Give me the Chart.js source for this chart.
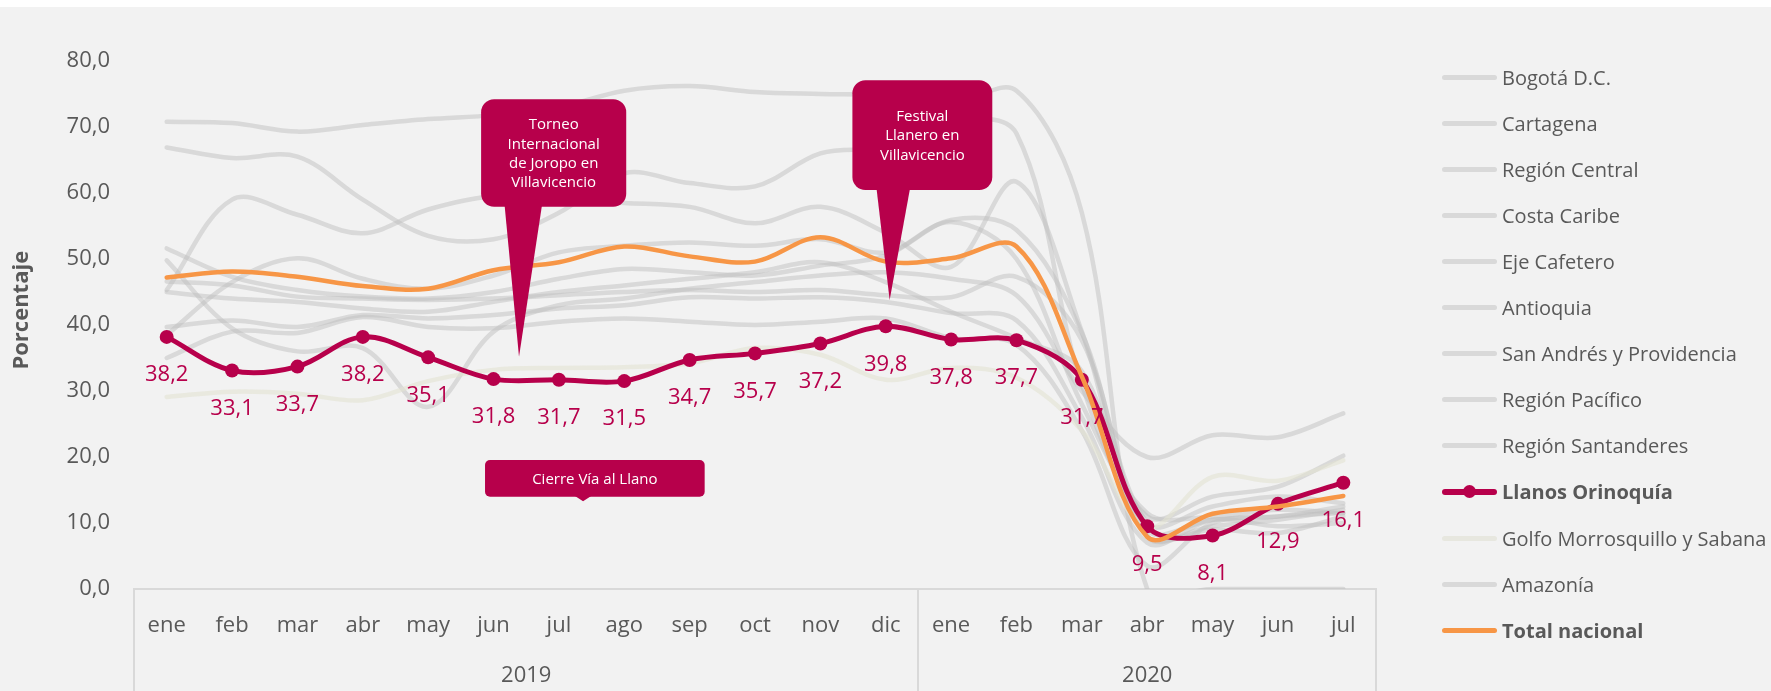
<!DOCTYPE html>
<html lang="es">
<head>
<meta charset="utf-8">
<title>Ocupación por región</title>
<script src="https://cdn.jsdelivr.net/npm/chart.js@4.4.0/dist/chart.umd.min.js"></script>
<style>
  html, body { margin: 0; padding: 0; background: #f2f2f2; }
  #contenedor { position: relative; width: 1771px; height: 691px; overflow: hidden; }
  #franja { position: absolute; left: 0; top: 0; width: 1771px; height: 7px; background: #ffffff; }
  #leyenda { position: absolute; left: 1442px; top: 0; font-family: "Open Sans", sans-serif; font-size: 20px; color: #595959; }
  .item { position: absolute; left: 0; height: 28px; display: flex; align-items: center; white-space: nowrap; }
  .linea { position: relative; width: 55px; margin-right: 5px; border-radius: 3px; }
  .punto { position: absolute; left: 21px; top: 50%; width: 13px; height: 13px; margin-top: -6.5px; border-radius: 50%; }
</style>
</head>
<body>
<div id="contenedor">
  <canvas id="grafica"></canvas>
  <div id="franja"></div>
  <div id="leyenda"></div>
</div>
<script>
// Meses y años del eje x
const meses = ["ene", "feb", "mar", "abr", "may", "jun", "jul", "ago", "sep", "oct", "nov", "dic",
               "ene", "feb", "mar", "abr", "may", "jun", "jul"];
const anios = ["2019", "2020"];
const mesesPorAnio = [12, 7];
const ticksY = [0, 10, 20, 30, 40, 50, 60, 70, 80];

// Series por región (porcentaje)
const bogota = [45.3, 59.0, 56.7, 53.9, 57.5, 59.5, 59.0, 58.5, 57.9, 55.4, 57.9, 54.0, 48.8, 61.7, 39.0, 8.0, 9.0, 8.5, 11.0];
const cartagena = [66.9, 65.3, 65.5, 59.0, 53.5, 53.0, 57.0, 63.0, 61.5, 61.0, 66.0, 67.0, 71.0, 69.0, 31.0, 11.0, 14.0, 15.5, 20.2];
const regionCentral = [51.6, 47.3, 45.3, 44.3, 44.0, 45.0, 47.0, 48.5, 48.0, 47.5, 49.0, 50.5, 55.9, 54.4, 38.8, 10.0, 12.5, 14.0, 13.0];
const costaCaribe = [38.5, 46.5, 50.1, 47.0, 45.5, 47.5, 51.0, 52.0, 52.5, 52.0, 53.0, 51.0, 55.6, 50.0, 28.0, 11.5, 11.0, 12.0, 11.5];
const ejeCafetero = [49.8, 39.5, 36.0, 36.5, 27.6, 39.0, 43.0, 44.0, 45.5, 46.5, 47.5, 48.0, 47.0, 44.5, 30.0, 20.0, 23.3, 23.0, 26.6];
const antioquia = [46.6, 46.0, 44.3, 44.0, 43.8, 44.0, 44.5, 45.0, 45.3, 45.0, 45.3, 44.5, 44.2, 47.3, 37.7, 9.0, 10.5, 11.0, 12.5];
const sanAndres = [70.8, 70.6, 69.3, 70.3, 71.2, 71.8, 73.0, 75.5, 76.2, 75.3, 75.0, 74.8, 73.5, 75.5, 57.0, 0.0, 0.0, 0.0, 0.0];
const regionPacifico = [39.7, 40.7, 39.7, 41.5, 41.0, 41.5, 42.5, 43.0, 44.2, 44.0, 44.2, 43.5, 41.8, 40.7, 26.0, 7.0, 10.5, 9.5, 10.0];
const regionSantanderes = [35.0, 39.0, 38.8, 41.2, 39.7, 39.5, 40.5, 41.0, 40.5, 40.0, 40.5, 41.0, 38.0, 37.0, 24.0, 3.5, 10.0, 11.0, 11.5];
const llanosOrinoquia = [38.2, 33.1, 33.7, 38.2, 35.1, 31.8, 31.7, 31.5, 34.7, 35.7, 37.2, 39.8, 37.8, 37.7, 31.7, 9.5, 8.1, 12.9, 16.1];
const golfoMorrosquillo = [29.1, 29.9, 29.6, 28.6, 31.5, 33.2, 33.5, 33.6, 34.2, 36.5, 35.5, 31.7, 33.5, 32.0, 24.0, 9.4, 17.0, 16.4, 19.5];
const amazonia = [45.0, 44.0, 43.5, 42.5, 42.0, 43.5, 45.0, 46.0, 47.0, 48.0, 49.5, 46.5, 42.0, 38.0, 33.0, 8.0, 9.5, 10.5, 12.0];
const totalNacional = [47.2, 48.1, 47.3, 45.9, 45.5, 48.3, 49.5, 51.9, 50.4, 49.6, 53.3, 49.6, 50.1, 51.9, 32.2, 7.9, 11.4, 12.5, 14.1];

const GRIS = "rgba(191,191,191,0.5)";
const BEIGE = "rgba(227,227,210,0.6)";
const VINO = "#b7004b";
const NARANJA = "#f79646";
const TEXTO = "#595959";
const FUENTE = "'Open Sans', sans-serif";

const series = [
  { nombre: "Bogotá D.C.", datos: bogota, tipo: "gris" },
  { nombre: "Cartagena", datos: cartagena, tipo: "gris" },
  { nombre: "Región Central", datos: regionCentral, tipo: "gris" },
  { nombre: "Costa Caribe", datos: costaCaribe, tipo: "gris" },
  { nombre: "Eje Cafetero", datos: ejeCafetero, tipo: "gris" },
  { nombre: "Antioquia", datos: antioquia, tipo: "gris" },
  { nombre: "San Andrés y Providencia", datos: sanAndres, tipo: "gris" },
  { nombre: "Región Pacífico", datos: regionPacifico, tipo: "gris" },
  { nombre: "Región Santanderes", datos: regionSantanderes, tipo: "gris" },
  { nombre: "Llanos Orinoquía", datos: llanosOrinoquia, tipo: "llanos" },
  { nombre: "Golfo Morrosquillo y Sabana", datos: golfoMorrosquillo, tipo: "beige" },
  { nombre: "Amazonía", datos: amazonia, tipo: "gris" },
  { nombre: "Total nacional", datos: totalNacional, tipo: "total" }
];

const estilos = {
  gris:   { color: GRIS, ancho: 4.5, orden: 3, leyenda: "#d9d9d9", grosor: 5 },
  beige:  { color: BEIGE, ancho: 4.5, orden: 2, leyenda: "#e7e7df", grosor: 5 },
  llanos: { color: VINO, ancho: 5, orden: 1, leyenda: VINO, grosor: 6 },
  total:  { color: NARANJA, ancho: 4.5, orden: 0, leyenda: NARANJA, grosor: 5 }
};

const coma = v => v.toFixed(1).replace(".", ",");

// Globos de texto, en unidades de los ejes (x = índice del mes, y = porcentaje)
const notas = [
  { lineas: ["Torneo", "Internacional", "de Joropo en", "Villavicencio"],
    x0: 4.81, x1: 7.03, yArriba: 74.2, yAbajo: 57.9, radio: 13,
    base: [5.17, 5.74], punta: [5.39, 35.2] },
  { lineas: ["Festival", "Llanero en", "Villavicencio"],
    x0: 10.49, x1: 12.63, yArriba: 77.1, yAbajo: 60.45, radio: 13,
    base: [10.86, 11.37], punta: [11.06, 43.8] },
  { lineas: ["Cierre Vía al Llano"],
    x0: 4.87, x1: 8.23, yArriba: 19.55, yAbajo: 13.98, radio: 5,
    base: [6.24, 6.5], punta: [6.37, 13.3] }
];

const globos = {
  id: "globos",
  afterDatasetsDraw(chart) {
    const { ctx, scales: { x, y } } = chart;
    ctx.save();
    ctx.fillStyle = VINO;
    notas.forEach(n => {
      const l = x.getPixelForValue(n.x0), r = x.getPixelForValue(n.x1);
      const t = y.getPixelForValue(n.yArriba), b = y.getPixelForValue(n.yAbajo);
      ctx.beginPath();
      ctx.roundRect(l, t, r - l, b - t, n.radio);
      ctx.fill();
      ctx.beginPath();
      ctx.moveTo(x.getPixelForValue(n.base[0]), b - 1);
      ctx.lineTo(x.getPixelForValue(n.base[1]), b - 1);
      ctx.lineTo(x.getPixelForValue(n.punta[0]), y.getPixelForValue(n.punta[1]));
      ctx.closePath();
      ctx.fill();
    });
    ctx.fillStyle = "#ffffff";
    ctx.font = "15px " + FUENTE;
    ctx.textAlign = "center";
    ctx.textBaseline = "middle";
    notas.forEach(n => {
      const cx = (x.getPixelForValue(n.x0) + x.getPixelForValue(n.x1)) / 2;
      const cy = (y.getPixelForValue(n.yArriba) + y.getPixelForValue(n.yAbajo)) / 2;
      const alto = 19.3;
      n.lineas.forEach((txt, i) => {
        ctx.fillText(txt, cx, cy + (i - (n.lineas.length - 1) / 2) * alto + 1);
      });
    });

    // Etiquetas de valor de Llanos Orinoquía
    const idx = chart.data.datasets.findIndex(d => d.label === "Llanos Orinoquía");
    const meta = chart.getDatasetMeta(idx);
    ctx.fillStyle = VINO;
    ctx.font = "22px " + FUENTE;
    meta.data.forEach((p, i) => {
      ctx.fillText(coma(llanosOrinoquia[i]), p.x, p.y + 38);
    });
    ctx.restore();
  },
  afterDraw(chart) {
    const { ctx, chartArea, scales: { x } } = chart;
    ctx.save();

    // Título del eje y, algo por encima del centro del área
    ctx.fillStyle = TEXTO;
    ctx.font = "bold 22px " + FUENTE;
    ctx.textAlign = "center";
    ctx.textBaseline = "middle";
    ctx.translate(22, chartArea.top + (chartArea.bottom - chartArea.top) * 0.472);
    ctx.rotate(-Math.PI / 2);
    ctx.fillText("Porcentaje", 0, 0);
    ctx.setTransform(1, 0, 0, 1, 0, 0);

    // Separadores de año y etiquetas 2019 / 2020 bajo los meses
    ctx.strokeStyle = "#d9d9d9";
    ctx.lineWidth = 2;
    ctx.font = "22px " + FUENTE;
    let inicio = 0;
    const bordes = [0];
    mesesPorAnio.forEach((n, k) => {
      const centro = x.getPixelForValue(inicio + n / 2 - 0.5);
      ctx.fillText(anios[k], centro, chartArea.bottom + 87);
      inicio += n;
      bordes.push(inicio);
    });
    bordes.forEach(bd => {
      const px = Math.round(x.getPixelForValue(bd - 0.5));
      ctx.beginPath();
      ctx.moveTo(px, chartArea.bottom);
      ctx.lineTo(px, chart.height);
      ctx.stroke();
    });
    ctx.restore();
  }
};

Chart.defaults.font.family = FUENTE;

const lienzo = document.getElementById("grafica");
lienzo.width = 1771;
lienzo.height = 691;

new Chart(lienzo.getContext("2d"), {
  type: "line",
  data: {
    labels: meses,
    datasets: series.map(s => {
      const e = estilos[s.tipo];
      return {
        label: s.nombre,
        data: s.datos,
        borderColor: e.color,
        backgroundColor: e.color,
        borderWidth: e.ancho,
        order: e.orden,
        tension: 0.35,
        fill: false,
        pointRadius: s.tipo === "llanos" ? 7 : 0,
        pointBorderWidth: 0,
        pointBackgroundColor: e.color
      };
    })
  },
  options: {
    responsive: false,
    animation: false,
    events: [],
    layout: { padding: { top: 61, right: 395, bottom: 0, left: 0 } },
    elements: { line: { capBezierPoints: false, borderCapStyle: "round" } },
    plugins: {
      legend: { display: false },
      tooltip: { enabled: false }
    },
    scales: {
      x: {
        offset: true,
        grid: { display: false, drawTicks: false },
        border: { display: true, color: "#d9d9d9", width: 2 },
        ticks: { color: TEXTO, font: { size: 22 }, padding: 24, maxRotation: 0, autoSkip: false },
        afterFit(scale) { scale.height = 102; }
      },
      y: {
        min: 0,
        max: 80,
        grid: { display: false, drawTicks: false },
        border: { display: false },
        afterBuildTicks(scale) { scale.ticks = ticksY.map(v => ({ value: v })); },
        ticks: { color: TEXTO, font: { size: 22 }, padding: 24, callback: v => coma(v) },
        afterFit(scale) { scale.width = 134; }
      }
    }
  },
  plugins: [globos]
});

// Leyenda a la derecha
const leyenda = document.getElementById("leyenda");
series.forEach((s, i) => {
  const e = estilos[s.tipo];
  const item = document.createElement("div");
  item.className = "item";
  item.style.top = (77.6 + 46.04 * i - 14) + "px";
  const linea = document.createElement("span");
  linea.className = "linea";
  linea.style.height = e.grosor + "px";
  linea.style.background = e.leyenda;
  if (s.tipo === "llanos") {
    const punto = document.createElement("span");
    punto.className = "punto";
    punto.style.background = VINO;
    linea.appendChild(punto);
  }
  const texto = document.createElement("span");
  texto.textContent = s.nombre;
  if (s.tipo === "llanos" || s.tipo === "total") texto.style.fontWeight = "bold";
  item.appendChild(linea);
  item.appendChild(texto);
  leyenda.appendChild(item);
});
</script>
</body>
</html>
